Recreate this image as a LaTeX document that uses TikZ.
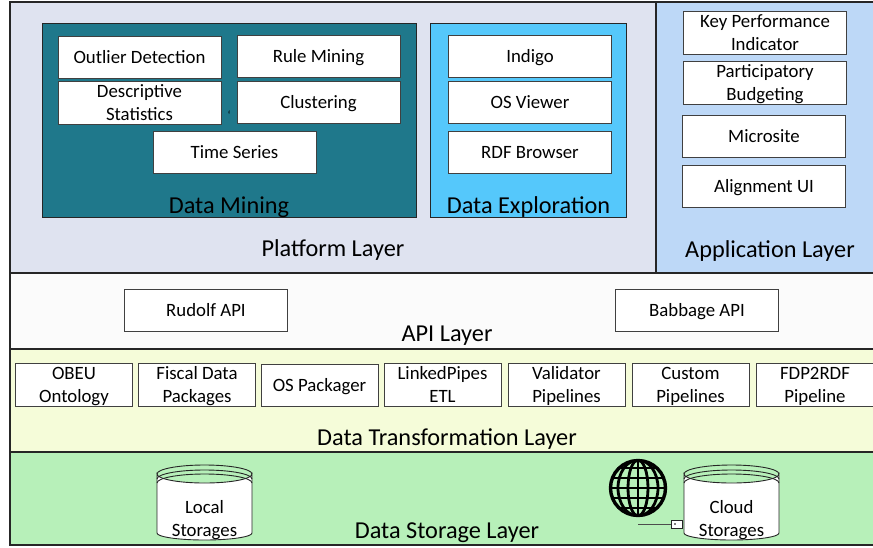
\documentclass[tikz,border=0pt]{standalone}
\usepackage{fontspec}
\setmainfont{Carlito}
\definecolor{platformbg}{HTML}{DFE3F0}
\definecolor{miningbg}{HTML}{1F788B}
\definecolor{explorebg}{HTML}{55C8FB}
\definecolor{appbg}{HTML}{BDD8F7}
\definecolor{apibg}{HTML}{FBFBFB}
\definecolor{transformbg}{HTML}{F5FCD9}
\definecolor{storagebg}{HTML}{B7F0B9}
\tikzset{
  layerbox/.style={draw=black!85,line width=1.6pt},
  groupbox/.style={draw=black!85,line width=1pt},
  toolbox/.style={draw=black!75,line width=1pt,fill=white,align=center,inner sep=0pt,
    minimum width=163pt,minimum height=42pt,text height=16pt,text depth=4pt,
    font=\fontsize{18.8}{23}\selectfont},
  twoline/.style={text height=39pt,text depth=4pt},
  pipebox/.style={toolbox,minimum width=117pt},
  layertext/.style={inner sep=0pt,yshift=-2.5pt,font=\fontsize{24.3}{28}\selectfont},
  storetext/.style={inner sep=0pt,align=center,font=\fontsize{18.8}{23}\selectfont},
}
% cylinder: left edge #1
\newcommand{\storagedb}[1]{
  \draw[fill=white,line width=0.9pt,draw=black!85] (#1,474) arc[x radius=47.5,y radius=9,start angle=180,end angle=0]
    -- (#1+95,533) arc[x radius=47.5,y radius=7,start angle=0,end angle=180] -- cycle;
  \draw[line width=0.9pt,draw=black!85] (#1,474) arc[x radius=47.5,y radius=9,start angle=180,end angle=360];
  \draw[line width=0.9pt,draw=black!85] (#1,479) arc[x radius=47.5,y radius=9,start angle=180,end angle=360];
  \draw[line width=0.9pt,draw=black!85] (#1,483) arc[x radius=47.5,y radius=9,start angle=180,end angle=360];
}
\begin{document}
\begin{tikzpicture}[x=1pt,y=-1pt]
\useasboundingbox (0,0) rectangle (873,547);

% layers
\draw[layerbox,fill=platformbg] (10,2) rectangle (656,273);
\draw[layerbox,fill=appbg] (656,2) rectangle (874,273);
\draw[layerbox,fill=apibg] (10,273) rectangle (874,349);
\draw[layerbox,fill=transformbg] (10,349) rectangle (874,452);
\draw[layerbox,fill=storagebg] (10,452) rectangle (874,545);

\draw[groupbox,fill=miningbg] (42,23) rectangle (416,217);
\draw[groupbox,fill=explorebg] (430,23) rectangle (626,217);

% data mining
\node[toolbox] (outlier) at (139.5,57) {Outlier Detection};
\node[toolbox] (rule) at (318.5,56) {Rule Mining};
\node[toolbox,twoline] (descr) at (139.5,103) {Descriptive\\Statistics};
\node[toolbox] (cluster) at (318.5,102) {Clustering};
\node[toolbox] (series) at (234.5,152) {Time Series};
\node[inner sep=0pt,font=\fontsize{12}{12}\selectfont] (tick) at (229,115) {`};
\node[layertext] (mining) at (229,205) {Data Mining};

% data exploration
\node[toolbox] (indigo) at (530,56) {Indigo};
\node[toolbox] (viewer) at (530,102) {OS Viewer};
\node[toolbox] (browser) at (530,152) {RDF Browser};
\node[layertext] (explore) at (528.5,205) {Data Exploration};
\node[layertext] (platform) at (333,248) {Platform Layer};

% application
\node[toolbox,twoline] (kpi) at (765,33) {Key Performance\\Indicator};
\node[toolbox,twoline] (budget) at (765,83) {Participatory\\Budgeting};
\node[toolbox] (micro) at (764,136) {Microsite};
\node[toolbox] (align) at (764,186) {Alignment UI};
\node[layertext] (app) at (770,249) {Application Layer};

% api
\node[toolbox] (rudolf) at (206,310.5) {Rudolf API};
\node[toolbox] (babbage) at (697,310.5) {Babbage API};
\node[layertext] (api) at (447,333) {API Layer};

% transformation
\node[pipebox,twoline] (obeu) at (74,385) {OBEU\\Ontology};
\node[pipebox,twoline] (fiscal) at (197,385) {Fiscal Data\\Packages};
\node[pipebox] (packager) at (319.5,385) {OS Packager};
\node[pipebox,twoline] (linked) at (442.5,385) {LinkedPipes\\ETL};
\node[pipebox,twoline] (validator) at (566.5,385) {Validator\\Pipelines};
\node[pipebox,twoline] (custom) at (690.5,385) {Custom\\Pipelines};
\node[pipebox,twoline] (fdp) at (815,385) {FDP2RDF\\Pipeline};
\node[layertext] (transform) at (447,437) {Data Transformation Layer};

% storage
\storagedb{157}
\storagedb{684}
\node[storetext] (local) at (204.5,520.5) {Local\\Storages};
\node[storetext] (cloud) at (731.5,520.5) {Cloud\\Storages};
\node[layertext] (storage) at (447,530) {Data Storage Layer};

% globe
\coordinate (globe) at (638,488);
\begin{scope}
\clip (globe) circle (28);
\foreach \rx in {10,20}
  \draw[line width=2.8pt] (globe) ellipse[x radius=\rx,y radius=28];
\draw[line width=2.8pt] (638,460) -- (638,516);
\foreach \dy in {-20,-10,0,10,20}
  \draw[line width=2.8pt] (600,488+\dy) -- (676,488+\dy);
\end{scope}
\draw[line width=3.4pt] (globe) circle (27.5);

% plug
\coordinate (cableend) at (638,524);
\node[draw=black!85,fill=white,line width=0.8pt,inner sep=0pt,minimum width=11pt,minimum height=8pt] (plug) at (677,524) {};
\draw[line width=1pt,draw=black!70] (cableend) -- (plug.west);
\fill (675,524) circle (0.8);

\end{tikzpicture}
\end{document}
